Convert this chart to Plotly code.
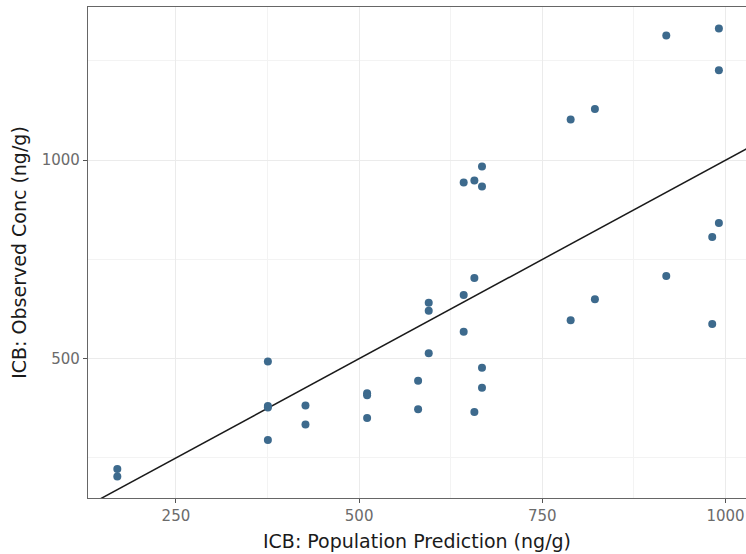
import plotly.graph_objects as go

# population prediction (x) vs observed concentration (y), ng/g
pred = [170, 170, 375.5, 375.5, 375.5, 375.5, 426.8, 426.8, 510.9, 510.9, 510.9,
        580.5, 580.5, 595, 595, 595, 642.7, 642.7, 642.7, 657.3, 657.3, 657.3,
        667.7, 667.7, 667.7, 667.7, 788.7, 788.7, 821.8, 821.8, 919.2, 919.2,
        981.9, 981.9, 991, 991, 991]
obs = [222, 203, 493, 381, 377, 295, 382, 334, 413, 408, 350.5,
       444.6, 372.5, 641, 621, 513.6, 943.6, 660.5, 568, 948.6, 703.4, 365.7,
       984, 933.5, 477.4, 427, 1102.3, 597, 1129.3, 649.7, 1314, 708.4,
       806.7, 587.5, 1331.7, 1226.8, 842]

# line of identity
ident = [100, 1100]

FONT = 'DejaVu Sans, sans-serif'

fig = go.Figure()

fig.add_trace(go.Scatter(
    x=ident, y=ident,
    mode='lines',
    line=dict(color='#1a1a1a', width=1.5),
    hoverinfo='skip',
))

fig.add_trace(go.Scatter(
    x=pred, y=obs,
    mode='markers',
    marker=dict(size=8, color='#3d6a8d'),
))

axis_common = dict(
    showgrid=True, gridcolor='#ebebeb', gridwidth=1,
    showline=True, linecolor='#666666', linewidth=1.2, mirror=True,
    ticks='outside', ticklen=4, tickcolor='#555555', tickwidth=1,
    tickfont=dict(family=FONT, size=15, color='#6b6b6b'),
    zeroline=False, automargin=False,
)

fig.update_layout(
    width=746, height=554,
    margin=dict(l=88, r=0, t=7, b=56),
    plot_bgcolor='white', paper_bgcolor='white',
    showlegend=False,
    font=dict(family=FONT, color='#1a1a1a'),
    xaxis=dict(
        range=[130, 1028], tick0=0, dtick=250,
        minor=dict(dtick=125, tick0=0, showgrid=True, gridcolor='#f3f3f3', ticks=''),
        title=dict(text='ICB: Population Prediction (ng/g)', font=dict(size=19), standoff=10),
        **axis_common,
    ),
    yaxis=dict(
        range=[149, 1386], tick0=0, dtick=500,
        minor=dict(dtick=250, tick0=0, showgrid=True, gridcolor='#f3f3f3', ticks=''),
        title=dict(text='ICB: Observed Conc (ng/g)', font=dict(size=19), standoff=10),
        **axis_common,
    ),
)

# drop the default body margin so the figure sits at the window's corner
fig.write_html("out.html", config={'displayModeBar': False},
               post_script="document.body.style.margin = '0';")
